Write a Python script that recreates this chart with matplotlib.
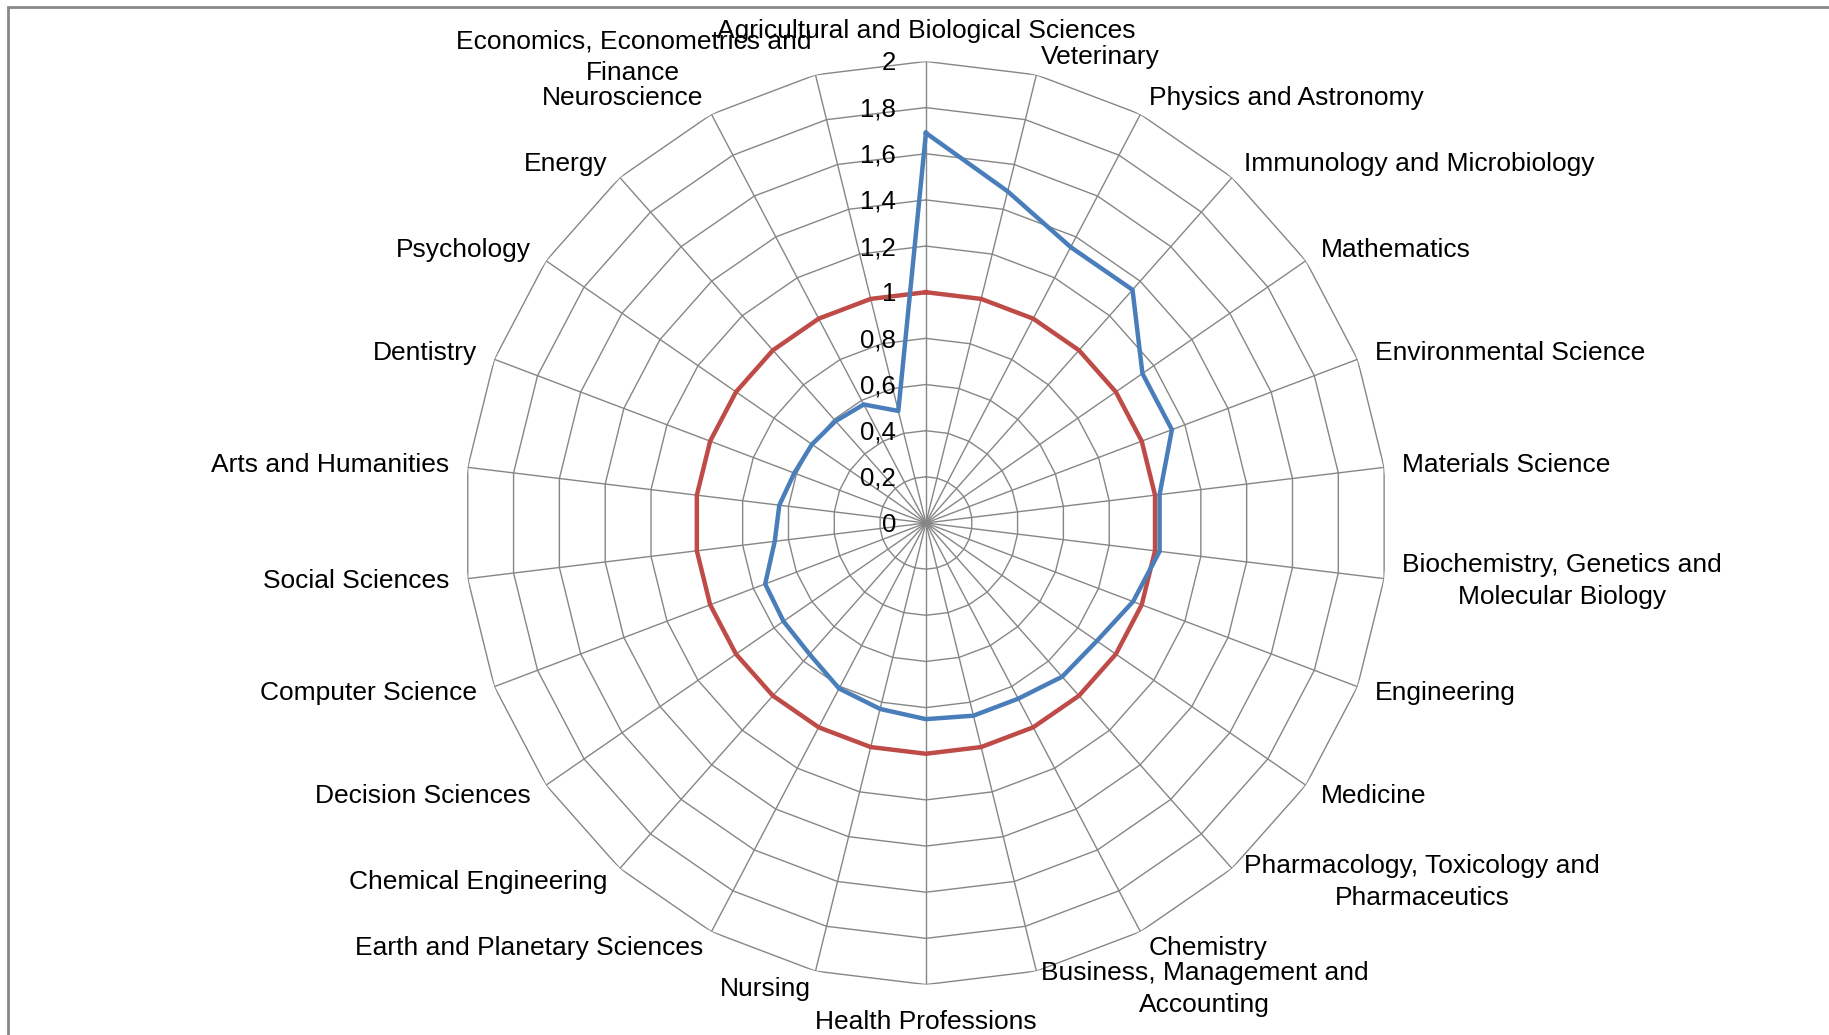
import matplotlib
matplotlib.use('Agg')
import matplotlib.pyplot as plt
import numpy as np
from matplotlib.patches import Rectangle

categories = [
    "Agricultural and Biological Sciences", "Veterinary", "Physics and Astronomy",
    "Immunology and Microbiology", "Mathematics", "Environmental Science",
    "Materials Science", "Biochemistry, Genetics and\nMolecular Biology", "Engineering",
    "Medicine", "Pharmacology, Toxicology and\nPharmaceutics", "Chemistry",
    "Business, Management and\nAccounting", "Health Professions", "Nursing",
    "Earth and Planetary Sciences", "Chemical Engineering", "Decision Sciences",
    "Computer Science", "Social Sciences", "Arts and Humanities", "Dentistry",
    "Psychology", "Energy", "Neuroscience", "Economics, Econometrics and\nFinance",
]
blue_values = [1.69, 1.48, 1.35, 1.35, 1.14, 1.14, 1.02, 1.02, 0.96, 0.90, 0.89, 0.86, 0.86,
               0.85, 0.83, 0.81, 0.76, 0.75, 0.745, 0.66, 0.64, 0.61, 0.60, 0.59, 0.58, 0.50]
red_values = [1.0, 1.0, 1.0, 1.0, 1.0, 1.0, 1.0, 1.0, 1.0, 1.0, 1.0, 1.0, 1.0,
              1.0, 1.0, 1.0, 1.0, 1.0, 1.0, 1.0, 1.0, 1.0, 1.0, 1.0, 1.0, 1.0]
tick_values = [0, 0.2, 0.4, 0.6, 0.8, 1.0, 1.2, 1.4, 1.6, 1.8, 2.0]
tick_labels = ["0", "0,2", "0,4", "0,6", "0,8", "1", "1,2", "1,4", "1,6", "1,8", "2"]

plt.rcParams['font.family'] = ['Liberation Sans', 'DejaVu Sans']
grid_color = '#868686'

fig = plt.figure(figsize=(18.29, 10.35), dpi=100)
ax = fig.add_axes([0.2539, 0.0487, 0.5047, 0.892], projection='polar')
ax.set_theta_zero_location('N')
ax.set_theta_direction(-1)
ax.set_ylim(0, 2)
ax.axis('off')

n = len(categories)
angles = np.arange(n) * 2 * np.pi / n
closed = np.append(angles, angles[0])

# polygon grid + spokes, like excel
for v in tick_values[1:]:
    ax.plot(closed, [v] * (n + 1), color=grid_color, lw=1.0, zorder=1)
for a in angles:
    ax.plot([a, a], [0, tick_values[-1]], color=grid_color, lw=1.0, zorder=1)

ax.plot(closed, red_values + red_values[:1], color='#BE4B48', lw=3.2, zorder=3)
ax.plot(closed, blue_values + blue_values[:1], color='#4A7EBB', lw=3.2, zorder=4)

for v, lab in zip(tick_values, tick_labels):
    ax.annotate(lab, xy=(0, v), xytext=(-30, -2), textcoords='offset pixels',
                ha='right', va='center', fontsize=18.5, zorder=5)

for a, lab in zip(angles, categories):
    deg = np.degrees(a)
    r = 2.08
    if np.isclose(deg, 0):
        ha, va = 'center', 'bottom'
    elif np.isclose(deg, 180):
        ha, va = 'center', 'top'
        r = 2.11
    elif deg < 180:
        ha, va = 'left', 'center'
    else:
        ha, va = 'right', 'center'
    ax.text(a, r, lab, ha=ha, va=va, multialignment='center', fontsize=19,
            linespacing=1.4)

fig.add_artist(Rectangle((8 / 1829, -0.5), 2, 0.5 + 1 - 7 / 1035, transform=fig.transFigure,
                         fill=False, edgecolor='#878787', lw=2))

fig.savefig('out.png', dpi=100)
